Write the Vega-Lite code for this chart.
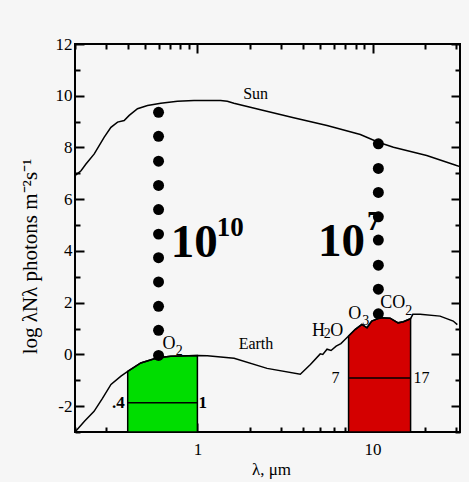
{
  "$schema": "https://vega.github.io/schema/vega-lite/v6.json",
  "width": 385,
  "height": 388,
  "autosize": "none",
  "padding": {"left": 75, "top": 44, "right": 9, "bottom": 50},
  "background": "#f6f6f6",
  "config": {
    "view": {"stroke": "black", "strokeWidth": 2},
    "font": "Liberation Serif",
    "axis": {
      "domain": false,
      "grid": false,
      "tickColor": "black",
      "tickWidth": 2,
      "labelColor": "black",
      "labelFont": "Liberation Serif",
      "labelFontSize": 17,
      "titleFont": "Liberation Serif",
      "titleColor": "black",
      "titleFontWeight": "normal",
      "labelOverlap": false,
      "labelFlush": false
    }
  },
  "datasets": {
    "sun": [
      {"lam": 0.2, "v": 6.91}, {"lam": 0.2165, "v": 7.1}, {"lam": 0.231, "v": 7.36},
      {"lam": 0.2576, "v": 7.75}, {"lam": 0.2938, "v": 8.4}, {"lam": 0.3208, "v": 8.78},
      {"lam": 0.35, "v": 8.98}, {"lam": 0.3817, "v": 9.04}, {"lam": 0.408, "v": 9.24},
      {"lam": 0.455, "v": 9.5}, {"lam": 0.519, "v": 9.62}, {"lam": 0.618, "v": 9.71},
      {"lam": 0.769, "v": 9.79}, {"lam": 0.956, "v": 9.82}, {"lam": 1.357, "v": 9.82},
      {"lam": 1.482, "v": 9.79}, {"lam": 1.616, "v": 9.71}, {"lam": 2.294, "v": 9.46},
      {"lam": 3.546, "v": 9.15}, {"lam": 5.5, "v": 8.85}, {"lam": 8.52, "v": 8.5},
      {"lam": 10.8, "v": 8.2}, {"lam": 13.17, "v": 8.01}, {"lam": 20.4, "v": 7.69},
      {"lam": 30.2, "v": 7.3}, {"lam": 31.6, "v": 7.26}
    ],
    "earth": [
      {"lam": 0.2, "v": -3.0}, {"lam": 0.2265, "v": -2.58}, {"lam": 0.257, "v": -2.2},
      {"lam": 0.287, "v": -1.7}, {"lam": 0.321, "v": -1.16}, {"lam": 0.366, "v": -0.84},
      {"lam": 0.4, "v": -0.66}, {"lam": 0.475, "v": -0.33}, {"lam": 0.592, "v": -0.13},
      {"lam": 0.705, "v": -0.07}, {"lam": 1.0, "v": -0.04}, {"lam": 1.14, "v": -0.05},
      {"lam": 1.62, "v": -0.15}, {"lam": 2.5, "v": -0.54}, {"lam": 3.87, "v": -0.77},
      {"lam": 4.42, "v": -0.39}, {"lam": 5.03, "v": 0.02}, {"lam": 5.2, "v": 0.0},
      {"lam": 5.5, "v": 0.2}, {"lam": 5.8, "v": 0.15}, {"lam": 6.2, "v": 0.32},
      {"lam": 6.6, "v": 0.42}, {"lam": 6.9, "v": 0.55}, {"lam": 7.3, "v": 0.71},
      {"lam": 7.98, "v": 0.97}, {"lam": 8.7, "v": 1.16}, {"lam": 9.3, "v": 1.03},
      {"lam": 9.9, "v": 1.29}, {"lam": 11.1, "v": 1.42}, {"lam": 12.6, "v": 1.4},
      {"lam": 14.0, "v": 1.22}, {"lam": 15.0, "v": 1.26}, {"lam": 16.5, "v": 1.38},
      {"lam": 17.0, "v": 1.55}, {"lam": 18.7, "v": 1.55}, {"lam": 24.3, "v": 1.48},
      {"lam": 28.9, "v": 1.29}, {"lam": 30.5, "v": 1.15}
    ],
    "dots": [
      {"lam": 0.6, "v": 9.36}, {"lam": 0.6, "v": 8.43}, {"lam": 0.6, "v": 7.47},
      {"lam": 0.6, "v": 6.53}, {"lam": 0.6, "v": 5.6}, {"lam": 0.6, "v": 4.65},
      {"lam": 0.6, "v": 3.74}, {"lam": 0.6, "v": 2.8}, {"lam": 0.6, "v": 1.86},
      {"lam": 0.6, "v": 0.93}, {"lam": 0.6, "v": -0.04},
      {"lam": 10.8, "v": 8.14}, {"lam": 10.8, "v": 7.19}, {"lam": 10.8, "v": 6.26},
      {"lam": 10.8, "v": 5.32}, {"lam": 10.8, "v": 4.42}, {"lam": 10.8, "v": 3.45},
      {"lam": 10.8, "v": 2.52}, {"lam": 10.8, "v": 1.57}
    ],
    "bandlines": [
      {"lam": 0.4, "lam2": 1.0, "v": -1.87},
      {"lam": 7.3, "lam2": 16.5, "v": -0.91}
    ],
    "curvelabels": [
      {"lam": 2.15, "v": 10.08, "text": "Sun"},
      {"lam": 2.16, "v": 0.4, "text": "Earth"}
    ],
    "chem": [
      {"lam": 0.632, "v": 0.39, "text": "O"},
      {"lam": 4.52, "v": 0.9, "text": "H"},
      {"lam": 5.74, "v": 0.9, "text": "O"},
      {"lam": 7.27, "v": 1.56, "text": "O"},
      {"lam": 11.06, "v": 2.0, "text": "CO"}
    ],
    "chemsub": [
      {"lam": 0.752, "v": 0.13, "text": "2"},
      {"lam": 5.27, "v": 0.79, "text": "2"},
      {"lam": 8.74, "v": 1.29, "text": "3"},
      {"lam": 15.36, "v": 1.68, "text": "2"}
    ],
    "bignum": [
      {"lam": 0.705, "v": 4.31, "text": "10"},
      {"lam": 4.89, "v": 4.33, "text": "10"}
    ],
    "bigsup": [
      {"lam": 1.288, "v": 4.9, "text": "10"},
      {"lam": 9.29, "v": 5.1, "text": "7"}
    ],
    "edgeleftbold": [{"lam": 0.4, "v": -1.87, "text": ".4"}],
    "edgerightbold": [{"lam": 1.0, "v": -1.87, "text": "1"}],
    "edgeleft": [{"lam": 7.3, "v": -0.91, "text": "7"}],
    "edgeright": [{"lam": 16.5, "v": -0.91, "text": "17"}]
  },
  "layer": [
    {
      "encoding": {
        "x": {
          "field": "lam", "type": "quantitative",
          "scale": {"type": "log", "domain": [0.2, 31.6], "nice": false},
          "axis": {
            "orient": "bottom",
            "values": [0.2, 0.3, 0.4, 0.5, 0.6, 0.7, 0.8, 0.9, 1, 2, 3, 4, 5, 6, 7, 8, 9, 10, 20, 30],
            "labelExpr": "datum.value == 1 ? '1' : (datum.value == 10 ? '10' : '')",
            "tickSize": {"condition": {"test": "datum.value == 1 || datum.value == 10", "value": -9}, "value": -5},
            "labelPadding": 18,
            "title": "λ, μm",
            "titleFontSize": 17,
            "titleX": 196,
            "titleY": 37,
            "titleAlign": "center",
            "titleBaseline": "middle"
          }
        },
        "y": {
          "field": "v", "type": "quantitative",
          "scale": {"domain": [-3, 12], "nice": false, "zero": false},
          "axis": {
            "orient": "left",
            "values": [-3, -2, -1, 0, 1, 2, 3, 4, 5, 6, 7, 8, 9, 10, 11, 12],
            "labelExpr": "datum.value % 2 == 0 ? '' + datum.value : ''",
            "tickSize": {"condition": {"test": "datum.value % 2 == 0", "value": -9}, "value": -5},
            "labelPadding": 12,
            "title": "log λNλ photons m⁻²s⁻¹",
            "titleFontSize": 21,
            "titleX": -45,
            "titleY": 212,
            "titleAngle": -90,
            "titleAlign": "center",
            "titleBaseline": "middle"
          }
        }
      },
      "layer": [
        {
          "data": {"name": "earth"},
          "transform": [{"filter": "datum.lam >= 0.4 && datum.lam <= 1"}],
          "mark": {"type": "area", "fill": "#00dd00", "stroke": "black", "strokeWidth": 1.5},
          "encoding": {"y2": {"datum": -3}}
        },
        {
          "data": {"name": "earth"},
          "transform": [{"filter": "datum.lam >= 7.3 && datum.lam <= 16.5"}],
          "mark": {"type": "area", "fill": "#d40000", "stroke": "black", "strokeWidth": 1.5},
          "encoding": {"y2": {"datum": -3}}
        },
        {
          "data": {"name": "earth"},
          "mark": {"type": "line", "color": "black", "strokeWidth": 1.5},
          "encoding": {}
        },
        {
          "data": {"name": "sun"},
          "mark": {"type": "line", "color": "black", "strokeWidth": 1.5},
          "encoding": {}
        },
        {
          "data": {"name": "bandlines"},
          "mark": {"type": "rule", "color": "black", "strokeWidth": 1.5},
          "encoding": {"x2": {"field": "lam2"}}
        },
        {
          "data": {"name": "curvelabels"},
          "mark": {"type": "text", "font": "Liberation Serif", "fontSize": 16, "align": "center", "color": "black"},
          "encoding": {"text": {"field": "text"}}
        },
        {
          "data": {"name": "chem"},
          "mark": {"type": "text", "font": "Liberation Serif", "fontSize": 18, "align": "left", "color": "black"},
          "encoding": {"text": {"field": "text"}}
        },
        {
          "data": {"name": "chemsub"},
          "mark": {"type": "text", "font": "Liberation Serif", "fontSize": 14, "align": "left", "color": "black"},
          "encoding": {"text": {"field": "text"}}
        },
        {
          "data": {"name": "dots"},
          "mark": {"type": "circle", "size": 120, "color": "black", "opacity": 1},
          "encoding": {}
        },
        {
          "data": {"name": "bignum"},
          "mark": {"type": "text", "font": "Liberation Serif", "fontSize": 47, "fontWeight": "bold", "align": "left", "color": "black"},
          "encoding": {"text": {"field": "text"}}
        },
        {
          "data": {"name": "bigsup"},
          "mark": {"type": "text", "font": "Liberation Serif", "fontSize": 27, "fontWeight": "bold", "align": "left", "color": "black"},
          "encoding": {"text": {"field": "text"}}
        },
        {
          "data": {"name": "edgeleftbold"},
          "mark": {"type": "text", "font": "Liberation Serif", "fontSize": 17, "fontWeight": "bold", "align": "right", "baseline": "middle", "dx": -3, "color": "black"},
          "encoding": {"text": {"field": "text"}}
        },
        {
          "data": {"name": "edgerightbold"},
          "mark": {"type": "text", "font": "Liberation Serif", "fontSize": 17, "fontWeight": "bold", "align": "left", "baseline": "middle", "dx": 1, "color": "black"},
          "encoding": {"text": {"field": "text"}}
        },
        {
          "data": {"name": "edgeleft"},
          "mark": {"type": "text", "font": "Liberation Serif", "fontSize": 16, "align": "right", "baseline": "middle", "dx": -9, "color": "black"},
          "encoding": {"text": {"field": "text"}}
        },
        {
          "data": {"name": "edgeright"},
          "mark": {"type": "text", "font": "Liberation Serif", "fontSize": 16, "align": "left", "baseline": "middle", "dx": 3, "color": "black"},
          "encoding": {"text": {"field": "text"}}
        }
      ]
    },
    {
      "data": {"name": "dots"},
      "mark": {"type": "point", "opacity": 0},
      "encoding": {
        "x": {
          "field": "lam", "type": "quantitative",
          "axis": {
            "orient": "top",
            "values": [0.2, 0.3, 0.4, 0.5, 0.6, 0.7, 0.8, 0.9, 1, 2, 3, 4, 5, 6, 7, 8, 9, 10, 20, 30],
            "labels": false,
            "title": null,
            "tickSize": {"condition": {"test": "datum.value == 1 || datum.value == 10", "value": -9}, "value": -5}
          }
        },
        "y": {
          "field": "v", "type": "quantitative",
          "axis": {
            "orient": "right",
            "values": [-3, -2, -1, 0, 1, 2, 3, 4, 5, 6, 7, 8, 9, 10, 11, 12],
            "labels": false,
            "title": null,
            "tickSize": {"condition": {"test": "datum.value % 2 == 0", "value": -9}, "value": -5}
          }
        }
      }
    }
  ],
  "resolve": {"axis": {"x": "independent", "y": "independent"}}
}
